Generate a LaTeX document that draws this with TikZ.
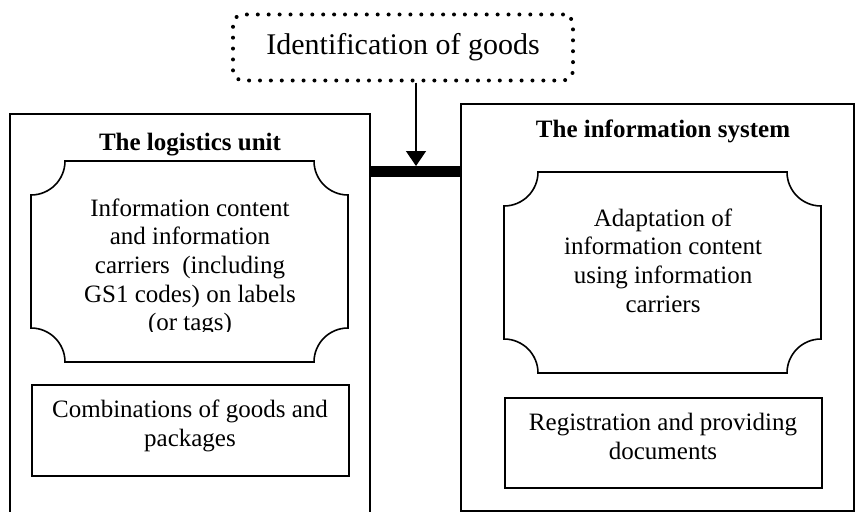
\documentclass[tikz,border=0pt]{standalone}
\usepackage{fontspec}
\setmainfont{Liberation Serif}
\usetikzlibrary{arrows.meta}

\tikzset{
  panel/.style={draw, line width=1.6pt, inner sep=0pt},
  bevel/.style={draw, line width=1.6pt},
  bodytext/.style={font=\fontsize{25}{28.7}\selectfont, align=center, inner sep=0pt},
  headtext/.style={font=\fontsize{25}{28.7}\selectfont\bfseries, inner sep=0pt},
  dotbox/.style={draw, line width=4pt, line cap=round, dash pattern=on 0pt off 10.9pt,
    rounded corners=10pt, font=\fontsize{30}{34}\selectfont},
  link/.style={line width=1.5pt, -{Triangle[width=20pt,length=15pt]}},
  busbar/.style={line width=11pt}
}

\begin{document}
\begin{tikzpicture}[x=1pt,y=1pt]
\clip (0,0) rectangle (856,-511);
\useasboundingbox (0,0) rectangle (856,-511);

% headline box
\node[dotbox, minimum width=340pt, minimum height=66pt] (ident) at (403,-47.5) {Identification of goods};

% the two large panels
\node[panel, minimum width=360pt, minimum height=430pt, anchor=north west] (lu) at (9,-113) {};
\node[panel, minimum width=393pt, minimum height=407pt, anchor=north west] (is) at (460,-103) {};

\node[headtext, anchor=base] (lutitle) at (190,-150) {The logistics unit};
\node[headtext, anchor=base] (istitle) at (663,-137) {The information system};

% bevelled frames
\draw[bevel] (65,-161) -- (314,-161) arc[start angle=180,end angle=270,radius=34]
  -- (348,-328) arc[start angle=90,end angle=180,radius=34]
  -- (65,-362) arc[start angle=0,end angle=90,radius=34]
  -- (31,-195) arc[start angle=270,end angle=360,radius=34] -- cycle;
\draw[bevel] (538,-172) -- (787,-172) arc[start angle=180,end angle=270,radius=34]
  -- (821,-339) arc[start angle=90,end angle=180,radius=34]
  -- (538,-373) arc[start angle=0,end angle=90,radius=34]
  -- (504,-206) arc[start angle=270,end angle=360,radius=34] -- cycle;

% multi-line texts are placed by the baseline of their last line
\begin{scope}
  \clip (31,-161) rectangle (348,-331);
  \node[bodytext, anchor=base] (lucontent) at (190,-330.8)
    {Information content\\and information\\carriers\ \ (including\\GS1 codes) on labels\\(or tags)};
\end{scope}
\node[bodytext, anchor=base] (iscontent) at (663,-312.1)
  {Adaptation of\\information content\\using information\\carriers};

% lower boxes
\node[panel, minimum width=317pt, minimum height=91pt, anchor=north west] (combo) at (31,-384) {};
\node[bodytext, anchor=base] (combotext) at (190,-446) {Combinations of goods and\\packages};
\node[panel, minimum width=317pt, minimum height=90pt, anchor=north west] (reg) at (504,-397) {};
\node[bodytext, anchor=base] (regtext) at (663,-459) {Registration and providing\\documents};

% connector and bar between the panels
\coordinate (tip) at (416,-166);
\draw[busbar] (lu.east |- 0,-171.5) -- (is.west |- 0,-171.5);
\draw[link] (ident.south -| tip) -- (tip);
\end{tikzpicture}
\end{document}
